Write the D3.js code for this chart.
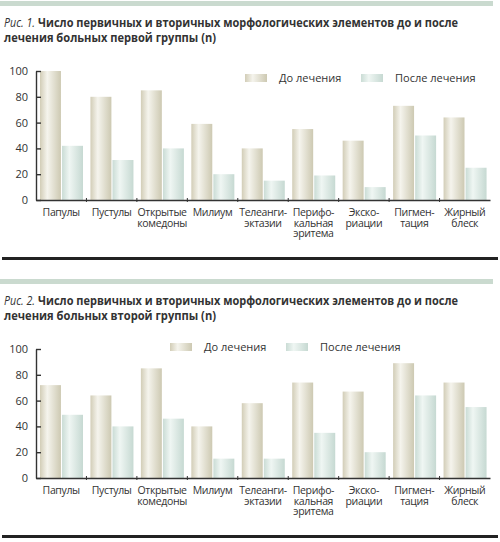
<!DOCTYPE html>
<html>
    <head>
        <meta charset="utf-8">
        <title>Рис. 1–2</title>
        <script src="https://d3js.org/d3.v7.min.js"></script>
        <style>
         body { margin: 0; background: #fff; }
         svg { display: block; font-family: "Open Sans", "Noto Sans", sans-serif; }
        </style>
    </head>
    <body>
        <svg width="500" height="542"></svg>

        <script>
         // data
         const categories = [
             ["Папулы"], ["Пустулы"], ["Открытые", "комедоны"], ["Милиум"],
             ["Телеанги-", "эктазии"], ["Перифо-", "кальная", "эритема"],
             ["Экско-", "риации"], ["Пигмен-", "тация"], ["Жирный", "блеск"]
         ];
         const seriesNames = ["До лечения", "После лечения"];
         const yTicks = [0, 20, 40, 60, 80, 100];

         const before1 = [100, 80, 85, 59, 40, 55, 46, 73, 64];
         const after1  = [42, 31, 40, 20, 15, 19, 10, 50, 25];
         const before2 = [72, 64, 85, 40, 58, 74, 67, 89, 74];
         const after2  = [49, 40, 46, 15, 15, 35, 20, 64, 55];

         const titles1 = ["Рис. 1.", "Число первичных и вторичных морфологических элементов до и после", "лечения больных первой группы (n)"];
         const titles2 = ["Рис. 2.", "Число первичных и вторичных морфологических элементов до и после", "лечения больных второй группы (n)"];

         const svg = d3.select("svg");
         const textColor = "#333";

         // bar gradients
         const defs = svg.append("defs");
         const grads = [
             {id: "gBefore", stops: [["0%", "#d2cdb7"], ["35%", "#f5f4ed"], ["100%", "#cdc9b2"]]},
             {id: "gAfter",  stops: [["0%", "#cadcd5"], ["35%", "#eff6f3"], ["100%", "#c6d9d2"]]}
         ];
         grads.forEach(gd => {
             const lg = defs.append("linearGradient").attr("id", gd.id)
                            .attr("x1", "0%").attr("x2", "100%").attr("y1", "0%").attr("y2", "0%");
             gd.stops.forEach(s => lg.append("stop").attr("offset", s[0]).attr("stop-color", s[1]));
         });
         const fills = ["url(#gBefore)", "url(#gAfter)"];

         function drawChart(top, titles, before, after, legendX) {
             const g = svg.append("g").attr("transform", `translate(0,${top})`);

             // top band
             g.append("rect").attr("x", 0).attr("y", 1).attr("width", 493).attr("height", 5)
              .attr("fill", "#cadacf");

             // title
             g.append("text").attr("x", 4).attr("y", 27)
              .attr("font-size", 12).attr("font-style", "italic").attr("fill", textColor)
              .attr("textLength", 31).attr("lengthAdjust", "spacingAndGlyphs")
              .text(titles[0]);
             g.append("text").attr("x", 38).attr("y", 27)
              .attr("font-size", 12).attr("font-weight", "bold").attr("fill", textColor)
              .attr("textLength", 420).attr("lengthAdjust", "spacingAndGlyphs")
              .text(titles[1]);
             g.append("text").attr("x", 4).attr("y", 42)
              .attr("font-size", 12).attr("font-weight", "bold").attr("fill", textColor)
              .attr("textLength", 212).attr("lengthAdjust", "spacingAndGlyphs")
              .text(titles[2]);

             const x = d3.scaleBand().domain(d3.range(categories.length)).range([36, 490]);
             const sub = d3.scaleBand().domain([0, 1]).range([4, 47]).paddingInner(0.05);
             const y = d3.scaleLinear().domain([0, 100]).range([200, 71]);

             // bars
             const groups = g.selectAll(".cat").data(categories.map((c, i) => [before[i], after[i]]))
                             .join("g").attr("class", "cat")
                             .attr("transform", (d, i) => `translate(${x(i)},0)`);
             groups.selectAll("rect").data(d => d).join("rect")
                   .attr("x", (d, j) => sub(j))
                   .attr("width", sub.bandwidth())
                   .attr("y", d => y(d))
                   .attr("height", d => y(0) - y(d))
                   .attr("fill", (d, j) => fills[j]);

             // y axis
             const yAxis = g.append("g").attr("transform", "translate(36,0)")
                            .call(d3.axisLeft(y).tickValues(yTicks).tickSize(-5).tickSizeOuter(0).tickPadding(8));
             yAxis.selectAll("path, line").attr("stroke", "#333").attr("stroke-width", 1.4);
             yAxis.selectAll("text").attr("font-size", 11).attr("fill", textColor)
                  .attr("font-family", "Open Sans, sans-serif");

             // x axis
             const xAxis = g.append("g").attr("transform", "translate(0,200)")
                            .call(d3.axisBottom(x).tickValues([]).tickSizeOuter(0));
             xAxis.select("path").attr("stroke", "#333").attr("stroke-width", 1.4);
             g.selectAll(".bound").data(d3.range(1, categories.length)).join("line")
              .attr("class", "bound")
              .attr("x1", i => x(i)).attr("x2", i => x(i))
              .attr("y1", 198).attr("y2", 202)
              .attr("stroke", "#333").attr("stroke-width", 1);

             // category labels
             const lbl = g.selectAll(".lbl").data(categories).join("text")
                          .attr("class", "lbl")
                          .attr("text-anchor", "middle")
                          .attr("font-size", 10.5).attr("letter-spacing", -0.35)
                          .attr("fill", textColor)
                          .attr("x", (d, i) => x(i) + x.bandwidth() / 2)
                          .attr("y", 216);
             lbl.selectAll("tspan").data(d => d).join("tspan")
                .attr("x", function () { return this.parentNode.getAttribute("x"); })
                .attr("dy", (d, k) => k === 0 ? 0 : 10.5)
                .text(d => d);

             // legend
             seriesNames.forEach((name, j) => {
                 const lx = legendX[j];
                 g.append("rect").attr("x", lx).attr("y", legendX[2])
                  .attr("width", 22).attr("height", 8).attr("fill", fills[j]);
                 g.append("text").attr("x", lx + 34).attr("y", legendX[2] + 8)
                  .attr("font-size", 11).attr("fill", textColor).text(name);
             });
         }

         drawChart(0, titles1, before1, after1, [245, 361, 74]);
         drawChart(278, titles2, before2, after2, [170, 286, 65]);

         // separators
         [258.5, 536.5].forEach(yy => {
             svg.append("line").attr("x1", 2).attr("x2", 498).attr("y1", yy).attr("y2", yy)
                .attr("stroke", "#222").attr("stroke-width", 3);
         });
        </script>
    </body>
</html>
